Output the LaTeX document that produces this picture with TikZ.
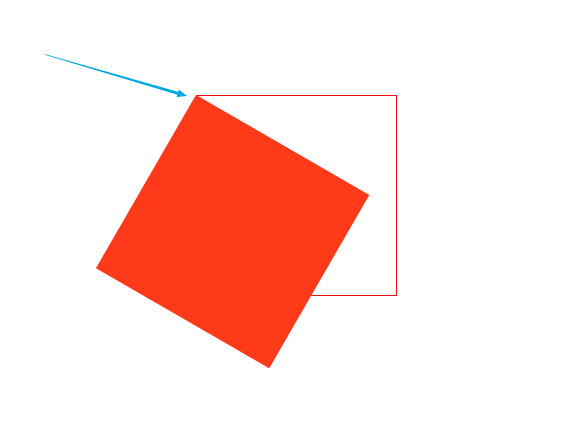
\documentclass[tikz,border=0pt]{standalone}
\usetikzlibrary{calc}
\definecolor{sqfill}{RGB}{255,58,24}
\definecolor{sqline}{RGB}{240,10,20}
\definecolor{arrowcol}{RGB}{0,168,232}
\tikzset{outline/.style={draw=sqline,line width=0.9pt},
         rotsq/.style={fill=sqfill},
         arr/.style={fill=arrowcol}}
\begin{document}
\begin{tikzpicture}[x=1pt,y=-1pt]
\useasboundingbox (0,0) rectangle (564,425);
\draw[outline] (196,95) rectangle (396,295);
\fill[rotsq] (196,95) -- (369.2,195) -- (269.2,368.2) -- (96,268.2) -- cycle;
\coordinate (a) at (45,54.5);
\coordinate (b) at (187,96);
\coordinate (c) at ($(a)!0.935!(b)$);
\fill[arr] ($(a)!0.3pt!90:(b)$) -- ($(c)!1.4pt!90:(b)$) -- ($(c)!3.8pt!90:(b)$) -- (b) -- ($(c)!3.8pt!-90:(b)$) -- ($(c)!1.4pt!-90:(b)$) -- ($(a)!0.3pt!-90:(b)$) -- cycle;
\end{tikzpicture}
\end{document}
